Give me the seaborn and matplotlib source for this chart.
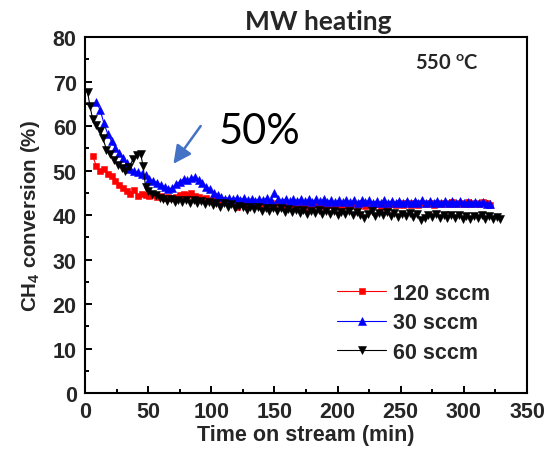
import matplotlib
matplotlib.use("Agg")
import matplotlib.pyplot as plt
from matplotlib.ticker import MultipleLocator
import seaborn as sns

# Time on stream (min) and CH4 conversion (%) for each feed flow rate
t_120 = [6, 9, 12, 15, 18, 21, 24, 27, 30, 33, 36, 39, 42, 45, 48, 51, 54, 57, 60, 63,
         66, 69, 72, 75, 78, 81, 84, 87, 90, 93, 96, 99, 102, 105, 108, 111, 114, 117, 120, 123,
         126, 129, 132, 135, 138, 141, 144, 147, 150, 153, 156, 159, 162, 165, 168, 171, 174, 177, 180, 183,
         186, 189, 192, 195, 198, 201, 204, 207, 210, 213, 216, 219, 222, 225, 228, 231, 234, 237, 240, 243,
         246, 249, 252, 255, 258, 261, 264, 267, 270, 273, 276, 279, 282, 285, 288, 291, 294, 297, 300, 303,
         306, 309, 312, 315, 318, 321]
conv_120 = [53.3, 51.0, 49.9, 50.4, 49.3, 48.8, 47.6, 46.8, 46.1, 45.5, 44.7, 45.6, 44.2, 44.8, 44.5, 44.2, 44.5, 44.0, 44.3, 43.9,
            44.1, 43.9, 44.1, 44.6, 44.8, 44.5, 44.9, 44.3, 44.0, 43.6, 43.9, 43.3, 43.5, 43.1, 43.4, 42.9, 43.2, 42.7, 41.8, 42.9,
            42.4, 42.8, 42.3, 42.7, 42.2, 42.6, 42.4, 42.7, 42.3, 42.6, 42.1, 42.5, 42.2, 42.6, 42.0, 42.4, 41.7, 42.3, 42.1, 42.5,
            42.0, 42.4, 42.2, 42.5, 41.9, 42.3, 42.0, 42.4, 42.1, 42.5, 42.2, 42.6, 42.0, 42.4, 42.2, 42.5, 41.9, 42.3, 42.1, 42.5,
            42.2, 42.6, 42.3, 42.7, 42.2, 42.6, 42.3, 42.7, 42.4, 42.8, 42.3, 42.7, 42.4, 42.8, 42.5, 42.9, 42.4, 42.8, 42.5, 42.9,
            42.4, 42.8, 42.5, 42.9, 42.6, 42.3]

t_30 = [9, 12, 15, 18, 21, 24, 27, 30, 33, 36, 39, 42, 45, 48, 51, 54, 57, 60, 63, 66,
        69, 72, 75, 78, 81, 84, 87, 90, 93, 96, 99, 102, 105, 108, 111, 114, 117, 120, 123, 126,
        129, 132, 135, 138, 141, 144, 147, 150, 153, 156, 159, 162, 165, 168, 171, 174, 177, 180, 183, 186,
        189, 192, 195, 198, 201, 204, 207, 210, 213, 216, 219, 222, 225, 228, 231, 234, 237, 240, 243, 246,
        249, 252, 255, 258, 261, 264, 267, 270, 273, 276, 279, 282, 285, 288, 291, 294, 297, 300, 303, 306,
        309, 312, 315, 318, 321]
conv_30 = [65.4, 63.6, 60.6, 58.2, 56.6, 55.1, 53.9, 52.8, 51.6, 50.4, 49.9, 49.6, 49.3, 48.9, 48.1, 47.7, 47.3, 46.8, 46.4, 45.9,
           46.1, 46.9, 47.5, 48.1, 47.8, 48.3, 48.6, 47.9, 47.3, 46.4, 45.8, 45.0, 44.6, 44.1, 43.7, 43.9, 43.5, 43.9, 43.4, 43.8,
           43.3, 43.7, 43.2, 43.7, 43.3, 43.8, 43.4, 44.9, 43.6, 43.2, 43.6, 43.1, 43.6, 43.2, 43.6, 43.1, 43.5, 43.0, 43.5, 43.1,
           43.5, 43.0, 43.4, 42.9, 43.4, 43.0, 43.4, 42.9, 43.3, 42.8, 43.3, 42.9, 43.3, 42.8, 43.2, 42.8, 43.3, 42.8, 43.2, 42.7,
           43.2, 42.8, 43.2, 42.7, 43.2, 42.8, 43.3, 42.8, 43.2, 42.7, 43.2, 42.8, 43.2, 42.7, 43.1, 42.7, 43.1, 42.6, 43.0, 42.6,
           43.0, 42.6, 42.9, 42.5, 42.4]

t_60 = [2, 4, 6, 9, 12, 14, 17, 20, 23, 26, 29, 32, 35, 38, 41, 44, 46, 48,
        50, 53, 56, 59, 62, 65, 68, 71, 74, 77, 80, 83, 86, 89, 92, 95, 98, 101, 104, 107, 110, 113,
        116, 119, 122, 125, 128, 131, 134, 137, 140, 143, 146, 149, 152, 155, 158, 161, 164, 167, 170, 173,
        176, 179, 182, 185, 188, 191, 194, 197, 200, 203, 206, 209, 212, 215, 218, 221, 224, 227, 230, 233,
        236, 239, 242, 245, 248, 251, 254, 257, 260, 263, 266, 269, 272, 275, 278, 281, 284, 287, 290, 293,
        296, 299, 302, 305, 308, 311, 314, 317, 320, 323, 326, 329]
conv_60 = [67.6, 64.4, 61.6, 60.3, 58.9, 57.4, 54.7, 53.6, 52.4, 51.3, 50.6, 49.9, 50.9, 52.5, 53.5, 53.8, 51.0, 46.2,
           45.3, 44.7, 44.4, 43.9, 43.6, 43.1, 43.6, 43.0, 43.4, 42.9, 43.4, 42.8, 43.3, 42.6, 43.1, 42.4, 42.9, 42.2, 42.8, 41.9, 42.6, 41.8,
           42.4, 41.5, 42.1, 41.9, 41.1, 41.8, 41.3, 41.9, 41.0, 41.6, 40.8, 41.5, 41.0, 41.6, 40.7, 41.3, 40.6, 41.2, 40.4, 41.1,
           40.3, 41.0, 40.5, 41.1, 40.2, 40.9, 40.3, 40.9, 40.1, 40.7, 40.2, 40.8, 40.0, 40.6, 40.1, 39.4, 40.3, 40.8, 39.8, 40.5,
           39.9, 40.6, 39.8, 40.4, 39.6, 40.3, 39.7, 40.4, 39.5, 40.2, 38.9, 39.4, 40.1, 39.6, 40.2, 39.4, 40.0, 39.3, 39.9, 39.4,
           40.0, 39.2, 39.8, 39.1, 39.7, 39.3, 39.9, 39.2, 39.7, 39.1, 39.6, 39.2]

labels = ["120 sccm", "30 sccm", "60 sccm"]
x_ticks = [0, 50, 100, 150, 200, 250, 300, 350]
y_ticks = [0, 10, 20, 30, 40, 50, 60, 70, 80]

sns.set_theme(style="ticks")
plt.rcParams["font.family"] = ["Liberation Sans", "DejaVu Sans"]
plt.rcParams["mathtext.fontset"] = "custom"
plt.rcParams["mathtext.rm"] = "Liberation Sans:bold"
plt.rcParams["mathtext.bf"] = "Liberation Sans:bold"
plt.rcParams["mathtext.it"] = "Liberation Sans:bold"

fig = plt.figure(figsize=(5.46, 4.52), dpi=100)
ax = fig.add_axes([0.1557, 0.1283, 0.8095, 0.7876])

series = [
    (t_120, conv_120, labels[0], "#ff0000", "s", 5.0),
    (t_30, conv_30, labels[1], "#0000ff", "^", 6.2),
    (t_60, conv_60, labels[2], "#000000", "v", 6.2),
]
for t, conv, lab, col, mk, ms in series:
    sns.lineplot(x=t, y=conv, ax=ax, color=col, marker=mk, markersize=ms,
                 markeredgecolor=col, markeredgewidth=0.4, linewidth=0.8,
                 label=lab, sort=False, estimator=None)

ax.set_xlim(0, 350)
ax.set_ylim(0, 80)
ax.set_xticks(x_ticks)
ax.set_yticks(y_ticks)
ax.xaxis.set_minor_locator(MultipleLocator(25))
ax.yaxis.set_minor_locator(MultipleLocator(5))
ax.tick_params(which="both", direction="in", top=False, right=False,
               width=1.4, color="black", labelsize=15.5, pad=6)
ax.tick_params(which="major", length=5)
ax.tick_params(which="minor", length=3)
for lbl in ax.get_xticklabels() + ax.get_yticklabels():
    lbl.set_fontweight("bold")
for sp in ax.spines.values():
    sp.set_linewidth(1.5)
    sp.set_color("black")
    sp.set_visible(True)

ax.set_xlabel("Time on stream (min)", fontsize=15.5, fontweight="bold", labelpad=1)
ax.set_ylabel(r"CH$_{4}$ conversion (%)", fontsize=14.8, fontweight="bold", labelpad=8)

fig.text(0.583, 0.9347, "MW heating", ha="center", va="baseline",
         fontsize=19, fontweight="bold", family=["Lato", "DejaVu Sans"])
ax.text(286.6, 72.8, r"550 $^{\mathregular{o}}$C", ha="center", va="baseline",
        fontsize=14.5, fontweight="bold", family=["Lato", "DejaVu Sans"])
ax.text(138, 58.9, "50%", ha="center", va="center", fontsize=30,
        family=["Lato", "DejaVu Sans"], color="black")
ax.annotate("", xy=(70, 51.5), xytext=(91.6, 60.0),
            arrowprops=dict(arrowstyle="-|>,head_length=0.9,head_width=0.45",
                            color="#4472c4", lw=1.8, shrinkA=0, shrinkB=0))

leg = ax.legend(loc="upper left", bbox_to_anchor=(0.57, 0.31), frameon=False,
                fontsize=15.5, handlelength=2.3, handletextpad=0.3,
                labelspacing=0.4, borderpad=0, borderaxespad=0)
for txt in leg.get_texts():
    txt.set_fontweight("bold")

fig.savefig("out.png", dpi=100)
